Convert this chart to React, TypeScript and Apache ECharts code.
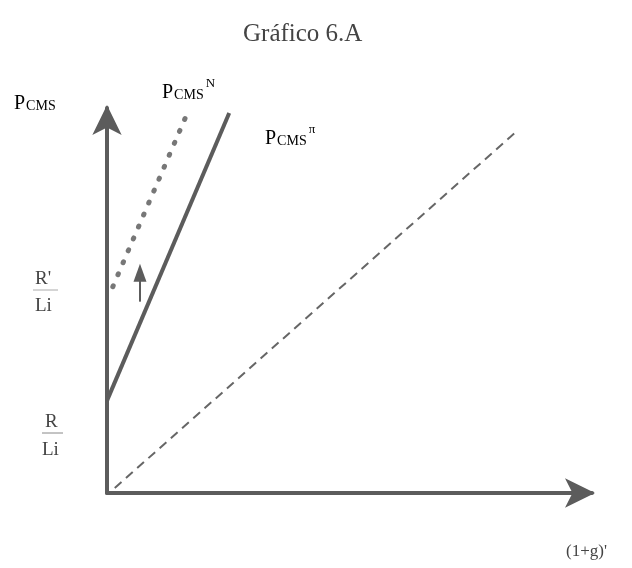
import React, { useEffect, useRef } from "react";
import * as echarts from "echarts";

// Curve endpoints in axis units (x: 0–100, y: 0–100)
const pcmsPi: number[][] = [[0, 24], [25.2, 98.7]];
const pcmsN: number[][] = [[1.2, 53.6], [16.4, 98.2]];
const diagonal: number[][] = [[1.6, 1.3], [84.6, 94.1]];
const shiftArrow: number[][] = [[6.8, 49.7], [6.8, 57.2]];

const INK = "#5c5c5c";
const TEXT = "#444";
const FONT = "'Liberation Serif', 'DejaVu Serif', serif";

export default function App() {
  const ref = useRef<HTMLDivElement>(null);

  useEffect(() => {
    if (!ref.current) return;
    const chart = echarts.init(ref.current, null, { renderer: "svg" });

    const pcmsRich = {
      p: { fontFamily: FONT, fontSize: 20, color: TEXT },
      s: { fontFamily: FONT, fontSize: 14, color: TEXT, padding: [7, 0, 0, 1] },
      u: { fontFamily: FONT, fontSize: 13, color: TEXT, padding: [0, 0, 16, 2] },
    };

    const axisCommon = {
      type: "value",
      min: 0,
      max: 100,
      axisLine: {
        show: true,
        symbol: ["none", "arrow"],
        symbolSize: [22, 30],
        symbolOffset: [0, 3],
        lineStyle: { color: INK, width: 4 },
      },
      axisTick: { show: false },
      axisLabel: { show: false },
      splitLine: { show: false },
    };

    chart.setOption({
      animation: false,
      grid: { left: 107, right: 40, top: 108, bottom: 75 },
      xAxis: axisCommon,
      yAxis: axisCommon,
      series: [
        {
          type: "line",
          data: pcmsPi,
          symbol: "none",
          clip: false,
          lineStyle: { color: INK, width: 4 },
        },
        {
          type: "line",
          data: pcmsN,
          symbol: "none",
          clip: false,
          lineStyle: { color: "#777", width: 5, type: [1, 12], cap: "round" },
        },
        {
          type: "line",
          data: diagonal,
          symbol: "none",
          clip: false,
          lineStyle: { color: "#666", width: 2, type: [9, 6] },
        },
        {
          type: "line",
          data: [
            { value: shiftArrow[0], symbol: "none" },
            { value: shiftArrow[1], symbol: "triangle", symbolSize: [13, 18] },
          ],
          clip: false,
          itemStyle: { color: INK },
          lineStyle: { color: INK, width: 2 },
        },
      ],
      graphic: [
        {
          type: "text",
          x: 243,
          y: 20,
          style: { text: "Gráfico 6.A", font: `25px ${FONT}`, fill: TEXT },
        },
        {
          type: "text",
          x: 14,
          y: 91,
          style: { text: "{p|P}{s|CMS}", rich: pcmsRich },
        },
        {
          type: "text",
          x: 162,
          y: 76,
          style: { text: "{p|P}{s|CMS}{u|N}", rich: pcmsRich },
        },
        {
          type: "text",
          x: 265,
          y: 122,
          style: { text: "{p|P}{s|CMS}{u|π}", rich: pcmsRich },
        },
        {
          type: "text",
          x: 35,
          y: 268,
          style: { text: "R'", font: `19px ${FONT}`, fill: TEXT },
        },
        {
          type: "line",
          shape: { x1: 33, y1: 290, x2: 58, y2: 290 },
          style: { stroke: "#aaa", lineWidth: 1 },
        },
        {
          type: "text",
          x: 35,
          y: 295,
          style: { text: "Li", font: `19px ${FONT}`, fill: TEXT },
        },
        {
          type: "text",
          x: 45,
          y: 411,
          style: { text: "R", font: `19px ${FONT}`, fill: TEXT },
        },
        {
          type: "line",
          shape: { x1: 42, y1: 433, x2: 63, y2: 433 },
          style: { stroke: "#888", lineWidth: 1 },
        },
        {
          type: "text",
          x: 42,
          y: 439,
          style: { text: "Li", font: `19px ${FONT}`, fill: TEXT },
        },
        {
          type: "text",
          x: 566,
          y: 542,
          style: { text: "(1+g)'", font: `17px ${FONT}`, fill: TEXT },
        },
      ],
    });

    return () => chart.dispose();
  }, []);

  return (
    <div
      ref={ref}
      style={{ position: "fixed", left: 0, top: 0, width: 632, height: 568 }}
    />
  );
}
